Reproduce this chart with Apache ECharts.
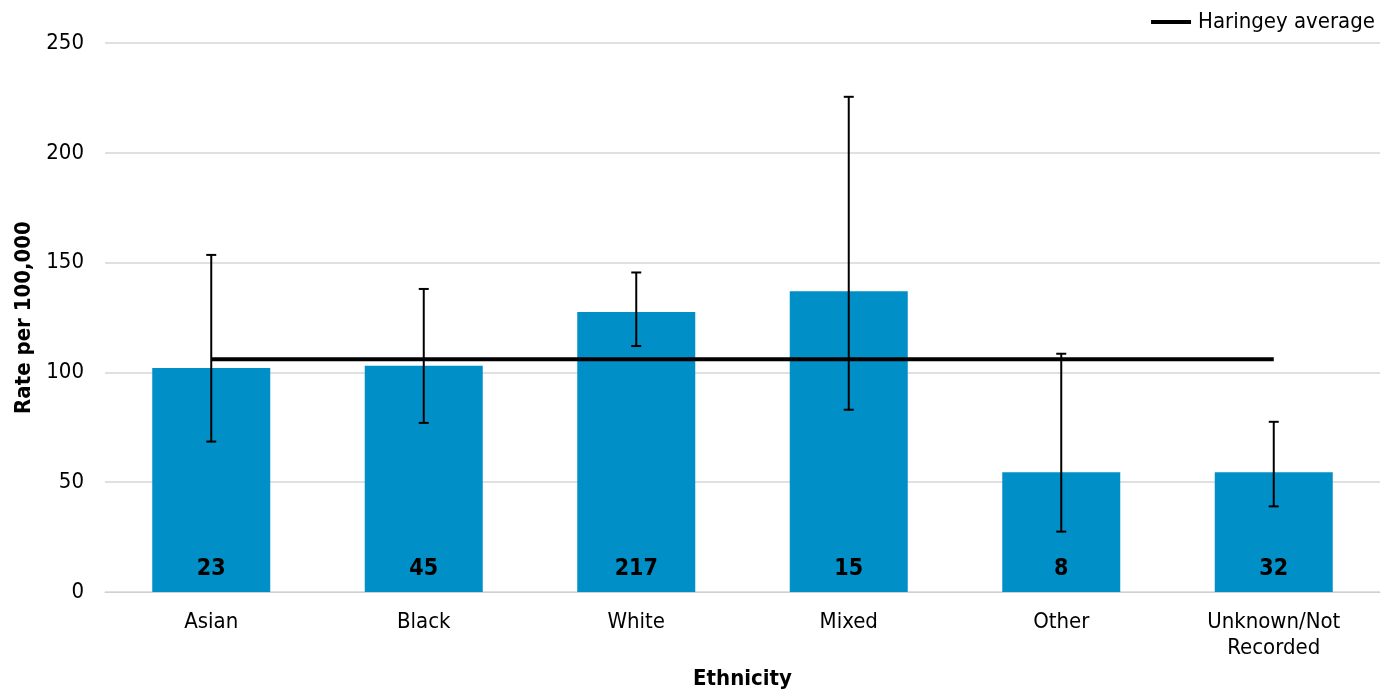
<!DOCTYPE html>
<html><head><meta charset="utf-8">
<script src="https://cdn.jsdelivr.net/npm/echarts@6/dist/echarts.min.js"></script>
<style>html,body{margin:0;padding:0;background:#fff;overflow:hidden}#c{width:1382px;height:695px}</style>
</head><body><div id="c"></div>
<script>
const categories = ['Asian','Black','White','Mixed','Other','Unknown/Not\nRecorded'];
const rates = [102, 103, 127.5, 137, 54.5, 54.5];
const lowerCI = [68.5, 77, 112, 83, 27.5, 39];
const upperCI = [153.5, 138, 145.5, 225.5, 108.5, 77.5];
const counts = [23, 45, 217, 15, 8, 32];
const haringeyAverage = [106, 106, 106, 106, 106, 106];
const yTicks = [0, 50, 100, 150, 200, 250];

const FONT = 'DejaVu Sans Condensed';
const FS = 22;
const chart = echarts.init(document.getElementById('c'), null, {width: 1382, height: 695});
chart.setOption({
  animation: false,
  textStyle: {fontFamily: FONT},
  grid: {left: 105, width: 1275, top: 43, height: 552, containLabel: false},
  legend: {
    data: [{name: 'Haringey average', icon: 'path://M0,0H10V1H0Z'}],
    right: 2, top: 6, itemWidth: 44, itemHeight: 4, itemGap: 1,
    textStyle: {fontSize: FS, color: '#000', fontFamily: FONT}
  },
  xAxis: {
    type: 'category', data: categories,
    name: 'Ethnicity', nameLocation: 'middle', nameGap: 76,
    nameTextStyle: {fontSize: FS, fontWeight: 'bold', color: '#000', fontFamily: FONT},
    axisLine: {lineStyle: {color: '#d0d0d0', width: 1}},
    axisTick: {show: false},
    axisLabel: {fontSize: FS, color: '#000', margin: 17, lineHeight: 26, fontFamily: FONT, interval: 0}
  },
  yAxis: {
    type: 'value', min: 0, max: 250, interval: 50,
    name: 'Rate per 100,000', nameLocation: 'middle', nameGap: 62,
    nameTextStyle: {fontSize: FS, fontWeight: 'bold', color: '#000', fontFamily: FONT},
    axisLine: {show: false}, axisTick: {show: false},
    axisLabel: {fontSize: FS, color: '#000', margin: 21, fontFamily: FONT,
      formatter: v => yTicks.includes(v) ? String(v) : ''},
    splitLine: {lineStyle: {color: '#d6d6d6', width: 1.5}}
  },
  series: [
    {
      name: 'Rate', type: 'bar', data: rates, barWidth: 118,
      itemStyle: {color: '#008FC7'},
      label: {show: true, position: 'insideBottom', distance: 11,
        formatter: p => String(counts[p.dataIndex]),
        fontSize: 23, fontWeight: 'bold', color: '#000', fontFamily: FONT},
      z: 2
    },
    {
      name: 'Haringey average', type: 'line', data: haringeyAverage,
      symbol: 'none', lineStyle: {color: '#000', width: 4}, itemStyle: {color: '#000'},
      z: 3
    },
    {
      name: 'CI', type: 'custom',
      data: categories.map((c, i) => [i, lowerCI[i], upperCI[i]]),
      renderItem: function (params, api) {
        const i = api.value(0);
        const lo = api.coord([i, api.value(1)]);
        const hi = api.coord([i, api.value(2)]);
        const cap = 5;
        const style = {stroke: '#000', lineWidth: 2};
        return {type: 'group', children: [
          {type: 'line', shape: {x1: lo[0], y1: lo[1], x2: hi[0], y2: hi[1]}, style},
          {type: 'line', shape: {x1: lo[0]-cap, y1: lo[1], x2: lo[0]+cap, y2: lo[1]}, style},
          {type: 'line', shape: {x1: hi[0]-cap, y1: hi[1], x2: hi[0]+cap, y2: hi[1]}, style}
        ]};
      },
      z: 4
    }
  ]
});
</script></body></html>
